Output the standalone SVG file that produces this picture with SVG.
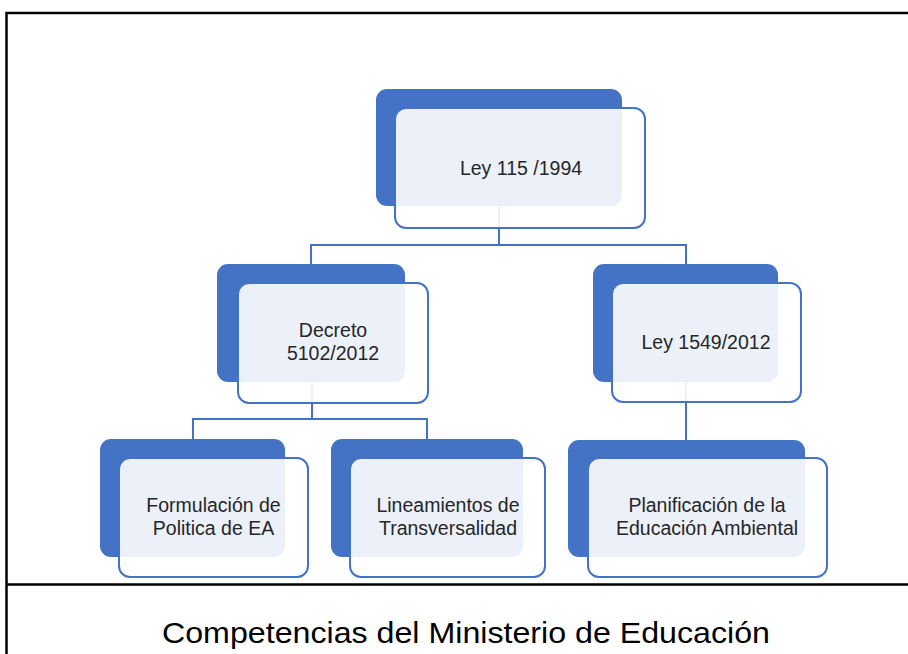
<svg xmlns="http://www.w3.org/2000/svg" width="908" height="654" viewBox="0 0 908 654">
<style>
.frame{stroke:#000;stroke-width:2.5;fill:none}
.conn{stroke:#4472C4;stroke-width:2;fill:none}
.back{fill:#4472C4}
.front{fill:#fff;fill-opacity:0.9;stroke:#4472C4;stroke-width:2}
.lbl{font-family:"Liberation Sans",Arial,sans-serif;font-size:19.5px;fill:#262626;text-anchor:middle}
.title{font-family:"Liberation Sans",Arial,sans-serif;font-size:29px;fill:#000}
</style>
<rect width="908" height="654" fill="#fff"/>
<g id="frame">
<path class="frame" d="M6.5 654 V13 H908"/>
<path class="frame" d="M6.5 584.5 H908"/>
</g>
<g id="connectors">
<path class="conn" d="M499 206 V245 M311 264 V245 H686 V264"/>
<path class="conn" d="M312 382 V419 M193 439 V419 H427 V439"/>
<path class="conn" d="M686 382 V440"/>
</g>
<g id="n-ley115">
<rect class="back" x="376" y="89" width="246" height="117" rx="11"/>
<rect class="front" x="395" y="108" width="250" height="120" rx="11"/>
<text class="lbl" x="521" y="175">Ley 115 /1994</text>
</g>
<g id="n-decreto">
<rect class="back" x="217" y="264" width="188" height="118" rx="11"/>
<rect class="front" x="238" y="283" width="190" height="120" rx="11"/>
<text class="lbl" x="333" y="337">Decreto</text>
<text class="lbl" x="333" y="360">5102/2012</text>
</g>
<g id="n-ley1549">
<rect class="back" x="593" y="264" width="185" height="118" rx="11"/>
<rect class="front" x="612" y="283" width="189" height="119" rx="11"/>
<text class="lbl" x="706" y="349">Ley 1549/2012</text>
</g>
<g id="n-formulacion">
<rect class="back" x="100" y="439" width="185" height="118" rx="11"/>
<rect class="front" x="119" y="458" width="189" height="119" rx="11"/>
<text class="lbl" x="213.5" y="512">Formulación de</text>
<text class="lbl" x="213.5" y="535">Politica de EA</text>
</g>
<g id="n-lineamientos">
<rect class="back" x="331" y="439" width="192" height="118" rx="11"/>
<rect class="front" x="350" y="458" width="195" height="119" rx="11"/>
<text class="lbl" x="448" y="512">Lineamientos de</text>
<text class="lbl" x="448" y="535">Transversalidad</text>
</g>
<g id="n-planificacion">
<rect class="back" x="568" y="440" width="237" height="117" rx="11"/>
<rect class="front" x="588" y="458" width="239" height="119" rx="11"/>
<text class="lbl" x="707" y="512">Planificación de la</text>
<text class="lbl" x="707" y="535">Educación Ambiental</text>
</g>
<text class="title" x="162" y="643" textLength="608" lengthAdjust="spacingAndGlyphs">Competencias del Ministerio de Educación</text>
</svg>
